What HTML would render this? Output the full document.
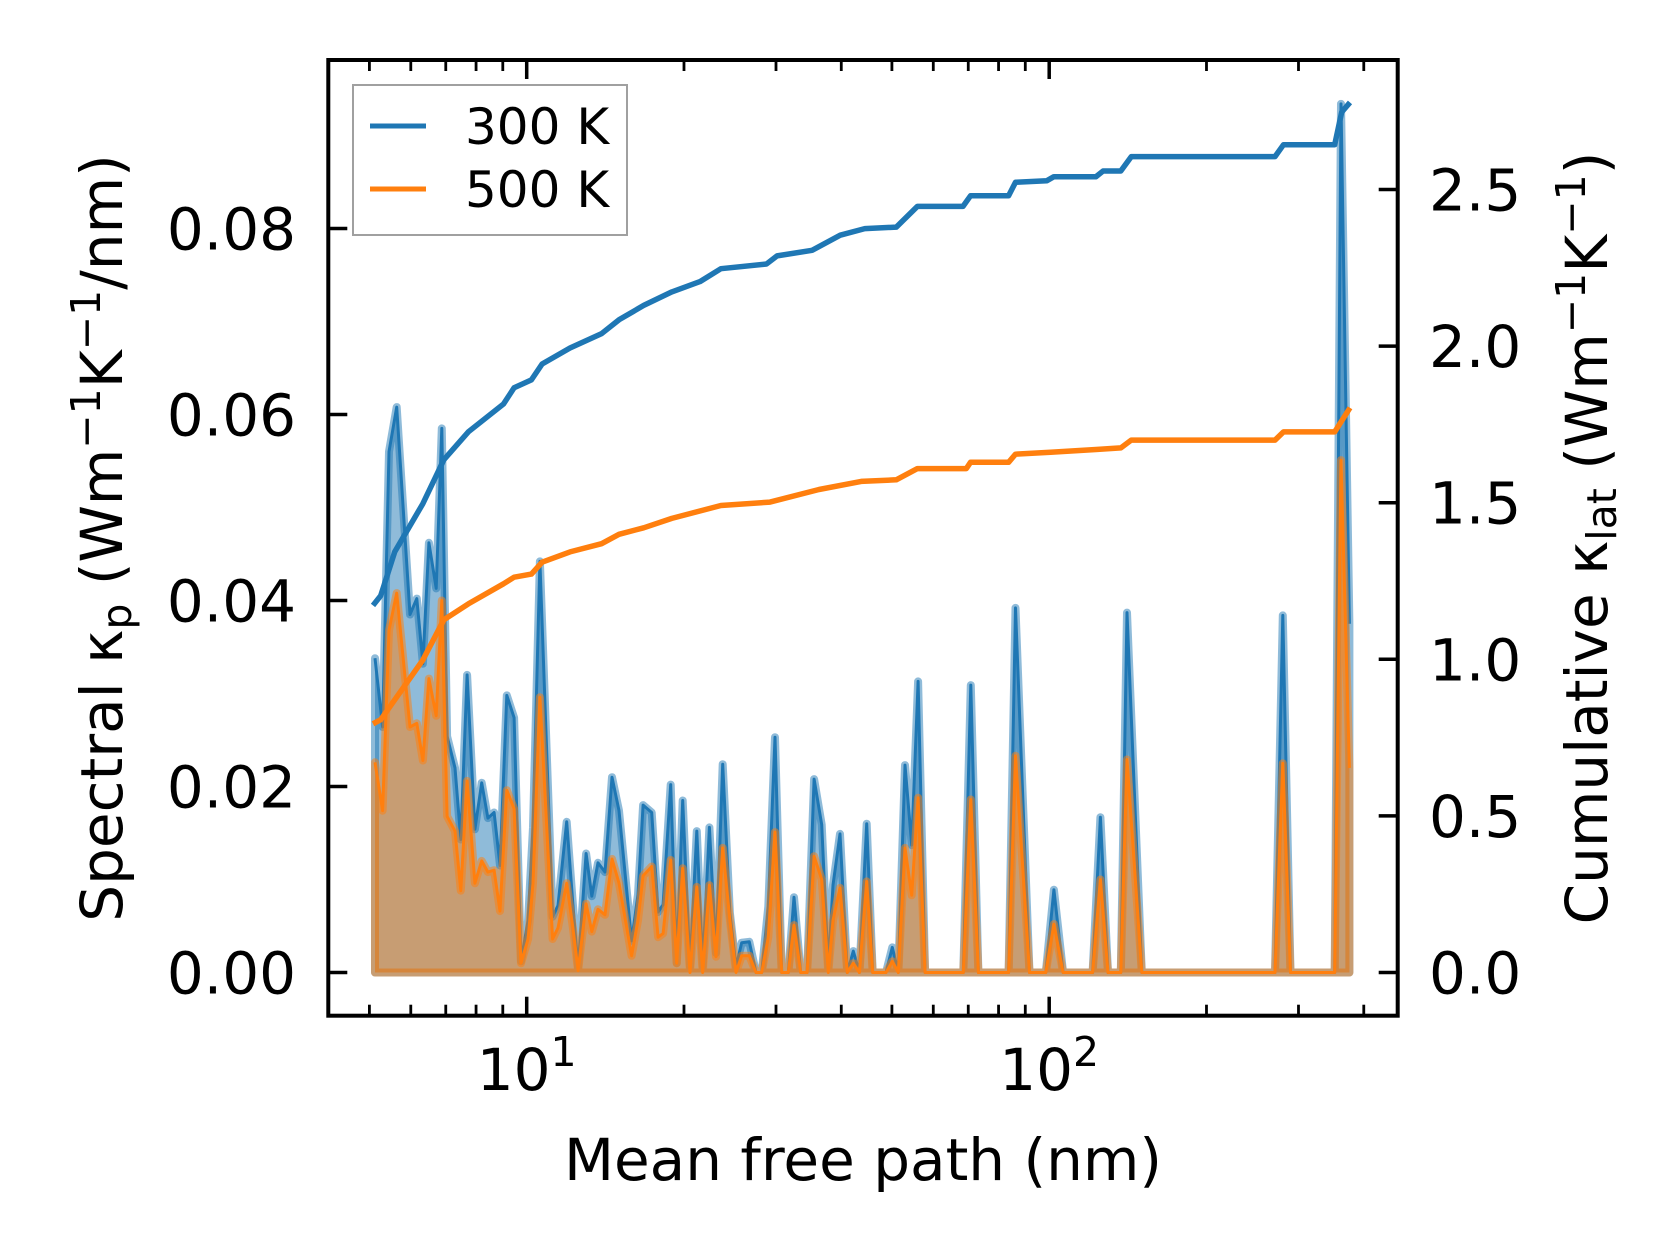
<!DOCTYPE html>
<html><head><meta charset="utf-8"><style>
html,body{margin:0;padding:0;background:#fff;}
svg{display:block;}
text{font-family:"DejaVu Sans","Liberation Sans",sans-serif;fill:#000;}
</style></head><body>
<svg id="chart" width="1679" height="1254" viewBox="0 0 1679 1254" xmlns="http://www.w3.org/2000/svg">
<rect x="0" y="0" width="1679" height="1254" fill="#fff"/>
<g id="plot"></g>
<g id="axes"></g>
<text x="122" y="538" font-size="58" text-anchor="middle" transform="rotate(-90 122 538)">Spectral κ<tspan font-size="41" dy="9">p</tspan><tspan dy="-9"> (Wm</tspan><tspan font-size="41" dy="-22">−1</tspan><tspan dy="22">K</tspan><tspan font-size="41" dy="-22">−1</tspan><tspan dy="22">/nm)</tspan></text>
<text x="1607" y="538" font-size="58" text-anchor="middle" transform="rotate(-90 1607 538)">Cumulative κ<tspan font-size="41" dy="9">lat</tspan><tspan dy="-9"> (Wm</tspan><tspan font-size="41" dy="-22">−1</tspan><tspan dy="22">K</tspan><tspan font-size="41" dy="-22">−1</tspan><tspan dy="22">)</tspan></text>
<text x="863" y="1180" font-size="58" text-anchor="middle">Mean free path (nm)</text>
<g>
<rect x="353" y="85" width="274" height="150" fill="#fff" fill-opacity="0.8" stroke="#a0a0a0" stroke-width="2"/>
<line x1="370" y1="126" x2="426" y2="126" stroke="#1f77b4" stroke-width="5"/>
<text x="465" y="144" font-size="50">300 K</text>
<line x1="370" y1="189" x2="426" y2="189" stroke="#ff7f0e" stroke-width="5"/>
<text x="465" y="207" font-size="50">500 K</text>
</g>
</svg>
<script>
const mfp = [5.125,5.30,5.45,5.64,5.98,6.16,6.33,6.50,6.71,6.88,7.04,7.29,7.48,7.69,7.96,8.20,8.43,8.66,8.89,9.16,9.46,9.75,10.06,10.28,10.60,11.21,11.48,11.93,12.26,12.54,12.99,13.32,13.69,14.12,14.56,15.02,15.88,16.33,16.70,17.35,17.84,18.24,18.86,19.37,19.89,20.54,21.16,21.72,22.37,23.03,23.72,24.49,25.15,25.79,26.67,27.47,28.17,29.00,29.87,30.76,31.67,32.48,33.45,34.40,35.48,36.70,37.78,38.57,39.78,41.08,42.18,43.32,44.75,45.95,47.45,48.72,50.08,51.43,52.97,54.56,56.11,57.87,68.5,70.8,73.2,83.6,86.2,91.7,98.5,102.1,106.3,121.1,125.3,129.6,137.1,140.9,150.4,270.5,280,289.6,351.9,361.8,375.5];
const spec300 = [.0338,.0264,.056,.0608,.0385,.0402,.0332,.0462,.0413,.0585,.0254,.022,.0143,.032,.0154,.0204,.0166,.0172,.0115,.0298,.0274,.0012,.0056,.0156,.0442,.006,.0072,.0162,.0073,.0004,.0128,.0082,.0118,.0108,.021,.0174,.0034,.0084,.018,.0172,.0065,.0073,.0202,.001,.0185,.0006,.0152,.0006,.0156,.0021,.0224,.0064,.0006,.0032,.0033,0,0,.0071,.0253,0,0,.0081,0,0,.0208,.0159,.0005,.0094,.0149,0,.0023,0,.016,0,0,0,.0027,0,.0223,.0137,.0313,0,0,.0309,0,0,.0392,0,0,.0089,0,0,.0167,0,0,.0387,0,0,.0384,0,0,.0934,.0375];
const spec500 = [.0226,.0174,.0368,.0408,.0264,.0268,.0228,.0316,.0276,.04,.0168,.0152,.0088,.0206,.0096,.012,.0108,.011,.0066,.0196,.0176,.001,.0036,.0096,.0296,.0036,.0048,.0096,.0048,.0002,.0074,.0044,.0068,.0062,.0122,.0096,.0018,.0056,.0104,.0114,.0038,.0042,.0121,.001,.0112,0,.0092,0,.0094,.0017,.0134,.0056,0,.0018,.0018,0,0,.0038,.0151,0,0,.0051,0,0,.0125,.01,0,.0056,.0091,0,.001,0,.0098,0,0,0,.0012,0,.0134,.0083,.0188,0,0,.0186,0,0,.0233,0,0,.0052,0,0,.01,0,0,.0229,0,0,.0225,0,0,.0551,.022];
const cumMfp300 = [5.08,5.255,5.59,6.33,6.94,7.73,9.03,9.46,10.21,10.70,12.10,13.91,15.02,16.75,18.95,21.46,23.53,28.77,30.13,35.18,39.81,44.36,50.98,55.94,68.4,70.7,83.6,86.2,99.0,102.1,122.9,126.8,137.1,143.6,270.5,280.8,351.9,362.9,376.4];
const cum300 = [1.172,1.203,1.343,1.497,1.637,1.726,1.815,1.867,1.892,1.943,1.994,2.040,2.084,2.130,2.173,2.206,2.247,2.262,2.288,2.306,2.354,2.375,2.380,2.446,2.446,2.480,2.480,2.523,2.528,2.541,2.541,2.559,2.559,2.605,2.605,2.643,2.643,2.747,2.778];
const cumMfp500 = [5.08,5.255,6.33,6.94,7.73,9.03,9.46,10.21,10.70,12.10,13.91,15.02,16.75,18.95,23.53,29.22,36.26,43.68,50.98,55.94,69.4,70.7,83.6,86.2,100.6,122.9,137.1,143.6,270.5,280.8,351.9,376.4];
const cum500 = [0.794,0.807,0.998,1.126,1.177,1.241,1.262,1.272,1.310,1.343,1.369,1.399,1.420,1.450,1.491,1.502,1.542,1.568,1.573,1.609,1.609,1.629,1.629,1.655,1.661,1.670,1.675,1.700,1.700,1.726,1.726,1.803];
const leftTicks = [0, 0.02, 0.04, 0.06, 0.08];
const leftTickLabels = ["0.00","0.02","0.04","0.06","0.08"];
const rightTicks = [0, 0.5, 1.0, 1.5, 2.0, 2.5];
const rightTickLabels = ["0.0","0.5","1.0","1.5","2.0","2.5"];
const xMajor = [10, 100];
const xMajorExp = ["1","2"];
const xMinor = [5,6,7,8,9,20,30,40,50,60,70,80,90,200,300,400];

const NS = "http://www.w3.org/2000/svg";
const L = 328.3, R = 1397.7, T = 60, B = 1015.7;
function xS(m){ return 526.7 + (Math.log10(m) - 1) * 522.5; }
function yL(v){ return 972.5 - v * 9300; }
function yR(v){ return 972.5 - v * 313.2; }
function mk(tag, attrs, parent){
  const e = document.createElementNS(NS, tag);
  for (const k in attrs) e.setAttribute(k, attrs[k]);
  parent.appendChild(e); return e;
}
const plot = document.getElementById('plot');
const axes = document.getElementById('axes');

function drawSpectral(vals, color, key){
  let pts = vals.map((v,i) => xS(mfp[i]).toFixed(1) + ',' + yL(v).toFixed(1));
  const line = mk('polyline', {points: pts.join(' '), fill:'none', stroke:color, 'stroke-width':3, 'stroke-linejoin':'round'}, plot);
  
  
  const poly = pts.slice();
  poly.push(xS(mfp[mfp.length-1]).toFixed(1) + ',' + yL(0).toFixed(1));
  poly.push(xS(mfp[0]).toFixed(1) + ',' + yL(0).toFixed(1));
  const fill = mk('polygon', {points: poly.join(' '), fill:color, 'fill-opacity':0.5, stroke:color, 'stroke-opacity':0.5, 'stroke-width':8, 'stroke-linejoin':'round'}, plot);
  
  
}
drawSpectral(spec300, '#1f77b4', '300k');
drawSpectral(spec500, '#ff7f0e', '500k');

function drawCum(xs, vals, color, key){
  const pts = vals.map((v,i) => xS(xs[i]).toFixed(1) + ',' + yR(v).toFixed(1));
  const l = mk('polyline', {points: pts.join(' '), fill:'none', stroke:color, 'stroke-width':5.5, 'stroke-linejoin':'round'}, plot);
  
  
}
drawCum(cumMfp300, cum300, '#1f77b4', '300k');
drawCum(cumMfp500, cum500, '#ff7f0e', '500k');

// spines
const frame = mk('rect', {x:L, y:T, width:R-L, height:B-T, fill:'none', stroke:'#000', 'stroke-width':4}, axes);



leftTicks.forEach((v,i) => {
  const y = yL(v);
  const t = mk('line', {x1:L, y1:y, x2:L+19, y2:y, stroke:'#000', 'stroke-width':3.5}, axes);
  
  
  const tx = mk('text', {x:296, y:y+21, 'font-size':58, 'text-anchor':'end'}, axes);
  tx.textContent = leftTickLabels[i];
  
  
});
rightTicks.forEach((v,i) => {
  const y = yR(v);
  const t = mk('line', {x1:R-19, y1:y, x2:R, y2:y, stroke:'#000', 'stroke-width':3.5}, axes);
  
  
  const tx = mk('text', {x:1429, y:y+21, 'font-size':58}, axes);
  tx.textContent = rightTickLabels[i];
  
  
});
xMajor.forEach((m,i) => {
  const x = xS(m);
  const t1 = mk('line', {x1:x, y1:B, x2:x, y2:B-19, stroke:'#000', 'stroke-width':3.5}, axes);
  
  
  const t2 = mk('line', {x1:x, y1:T, x2:x, y2:T+19, stroke:'#000', 'stroke-width':3.5}, axes);
  
  
  const tx = mk('text', {x:x, y:1090, 'font-size':58, 'text-anchor':'middle'}, axes);
  
  
  const a = document.createElementNS(NS, 'tspan'); a.textContent = '10'; tx.appendChild(a);
  const b = document.createElementNS(NS, 'tspan'); b.setAttribute('font-size', 41); b.setAttribute('dy', -24); b.textContent = xMajorExp[i]; tx.appendChild(b);
});
xMinor.forEach(m => {
  const x = xS(m);
  const t1 = mk('line', {x1:x, y1:B, x2:x, y2:B-11, stroke:'#000', 'stroke-width':2.8}, axes);
  
  
  const t2 = mk('line', {x1:x, y1:T, x2:x, y2:T+11, stroke:'#000', 'stroke-width':2.8}, axes);
  
  
});
</script>
</body></html>
